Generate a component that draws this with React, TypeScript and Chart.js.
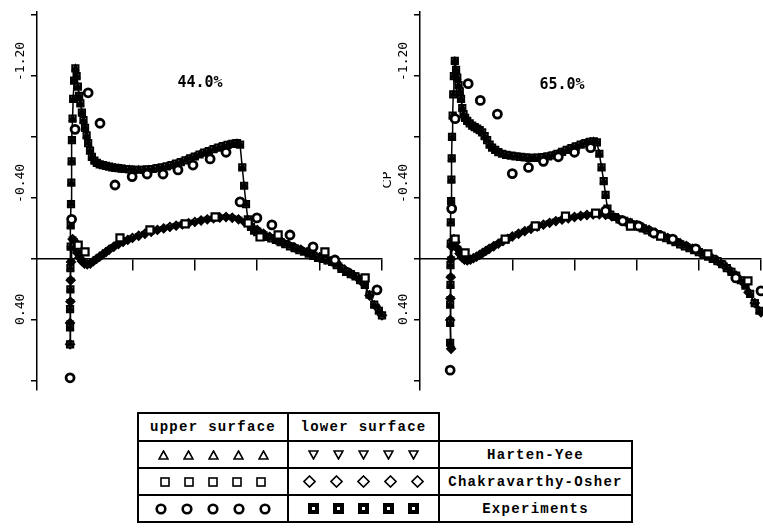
import React, { useEffect, useRef } from "react";
import { Chart, registerables } from "chart.js";
Chart.register(...registerables);

// ---------- axis / text content ----------
const Y_TICKS = [-1.6, -1.2, -0.8, -0.4, 0, 0.4, 0.8];
const Y_LABEL_VALUES = [-1.2, -0.4, 0.4];
const Y_LABELS = ["-1.20", "-0.40", "0.40"];
const X_TICKS = [0.2, 0.4, 0.6, 0.8, 1.0];
const PANEL_TITLES = ["44.0%", "65.0%"];
const AXIS_TITLE = "CP";
const LEGEND_HEADERS = ["upper surface", "lower surface"];
const LEGEND_METHODS = ["Harten-Yee", "Chakravarthy-Osher", "Experiments"];

// ---------- 44.0% span station: [x/c, Cp] ----------
const UPPER_44: [number, number][] = [
  [0, 0.56], [0, 0.45], [0, 0.33], [0.001, 0.2], [0.001, 0.06], [0.002, -0.08], [0.002, -0.22],
  [0.003, -0.36], [0.004, -0.5], [0.005, -0.64], [0.006, -0.78], [0.008, -0.92], [0.01, -1.05],
  [0.013, -1.17], [0.017, -1.25], [0.021, -1.2], [0.025, -1.13], [0.029, -1.07], [0.033, -1.02],
  [0.038, -0.96], [0.043, -0.91], [0.048, -0.86], [0.053, -0.81], [0.058, -0.76], [0.064, -0.71],
  [0.07, -0.67], [0.078, -0.645], [0.086, -0.63], [0.095, -0.62], [0.105, -0.615], [0.115, -0.61],
  [0.125, -0.605], [0.135, -0.6], [0.145, -0.597], [0.155, -0.595], [0.165, -0.592], [0.175, -0.59],
  [0.19, -0.588], [0.205, -0.585], [0.22, -0.585], [0.235, -0.585], [0.25, -0.587], [0.265, -0.59],
  [0.28, -0.595], [0.295, -0.6], [0.31, -0.607], [0.325, -0.615], [0.34, -0.625], [0.355, -0.635],
  [0.37, -0.647], [0.385, -0.66], [0.4, -0.672], [0.415, -0.685], [0.43, -0.697], [0.445, -0.708],
  [0.46, -0.72], [0.475, -0.73], [0.49, -0.74], [0.505, -0.748], [0.52, -0.755], [0.535, -0.76],
  [0.545, -0.75], [0.552, -0.6], [0.558, -0.48], [0.564, -0.36], [0.57, -0.26], [0.58, -0.21],
  [0.59, -0.185], [0.6, -0.175], [0.615, -0.16], [0.63, -0.145], [0.645, -0.135], [0.66, -0.125],
  [0.675, -0.11], [0.69, -0.097], [0.705, -0.083], [0.72, -0.07], [0.735, -0.058], [0.75, -0.047],
  [0.765, -0.035], [0.78, -0.02], [0.795, -0.007], [0.81, 0], [0.825, 0.01], [0.84, 0.02],
  [0.855, 0.04], [0.87, 0.065], [0.885, 0.085], [0.9, 0.1], [0.915, 0.115], [0.93, 0.14],
  [0.945, 0.17], [0.96, 0.235], [0.975, 0.3], [0.99, 0.34], [1, 0.37],
];
const LOWER_44: [number, number][] = [
  [0, 0.56], [0, 0.42], [0.001, 0.28], [0.002, 0.14], [0.003, 0.02], [0.005, -0.08], [0.008, -0.13],
  [0.012, -0.12], [0.017, -0.08], [0.023, -0.04], [0.03, -0.01], [0.038, 0.015], [0.046, 0.03],
  [0.055, 0.035], [0.065, 0.03], [0.075, 0.015], [0.085, 0], [0.095, -0.015], [0.105, -0.03],
  [0.115, -0.045], [0.125, -0.06], [0.14, -0.08], [0.155, -0.098], [0.17, -0.112], [0.185, -0.125],
  [0.2, -0.138], [0.22, -0.152], [0.24, -0.165], [0.26, -0.178], [0.28, -0.19], [0.3, -0.2],
  [0.32, -0.21], [0.34, -0.218], [0.36, -0.227], [0.38, -0.235], [0.4, -0.243], [0.42, -0.252],
  [0.44, -0.26], [0.46, -0.267], [0.48, -0.272], [0.5, -0.275], [0.52, -0.27], [0.54, -0.26],
  [0.56, -0.24], [0.58, -0.215], [0.6, -0.19], [0.62, -0.165], [0.64, -0.145], [0.66, -0.127],
  [0.68, -0.11], [0.7, -0.093], [0.72, -0.076], [0.74, -0.06], [0.76, -0.045], [0.78, -0.03],
  [0.8, -0.012], [0.82, 0.003], [0.84, 0.018], [0.86, 0.04], [0.88, 0.07], [0.9, 0.095],
  [0.92, 0.12], [0.94, 0.16], [0.96, 0.24], [0.98, 0.31], [1, 0.37],
];
const EXP_UPPER_44: [number, number][] = [
  [0, 0.78], [0.005, -0.26], [0.016, -0.85], [0.058, -1.09], [0.096, -0.89], [0.144, -0.485],
  [0.199, -0.54], [0.247, -0.557], [0.298, -0.557], [0.346, -0.584], [0.394, -0.616], [0.449, -0.656],
  [0.5, -0.7], [0.545, -0.374], [0.599, -0.269], [0.647, -0.223], [0.705, -0.157], [0.779, -0.079],
  [0.849, 0.007], [0.984, 0.203],
];
const EXP_LOWER_44: [number, number][] = [
  [0.026, -0.09], [0.048, -0.046], [0.16, -0.138], [0.256, -0.19], [0.369, -0.23], [0.465, -0.275],
  [0.571, -0.236], [0.609, -0.144], [0.667, -0.157], [0.817, -0.046], [0.946, 0.125],
];

// ---------- 65.0% span station: [x/c, Cp] ----------
const UPPER_65: [number, number][] = [
  [0, 0.55], [0, 0.42], [0, 0.3], [0.001, 0.17], [0.001, 0.04], [0.002, -0.1], [0.002, -0.24],
  [0.003, -0.38], [0.004, -0.52], [0.005, -0.66], [0.006, -0.8], [0.008, -0.94], [0.01, -1.08],
  [0.012, -1.2], [0.015, -1.3], [0.019, -1.24], [0.023, -1.19], [0.027, -1.14], [0.031, -1.1],
  [0.035, -1.05], [0.039, -0.99], [0.043, -0.95], [0.048, -0.925], [0.055, -0.905], [0.063, -0.89],
  [0.071, -0.875], [0.079, -0.865], [0.087, -0.855], [0.095, -0.845], [0.103, -0.83], [0.111, -0.805],
  [0.119, -0.78], [0.127, -0.75], [0.135, -0.73], [0.145, -0.715], [0.155, -0.7], [0.167, -0.69],
  [0.18, -0.682], [0.195, -0.677], [0.21, -0.673], [0.225, -0.67], [0.24, -0.666], [0.255, -0.663],
  [0.27, -0.663], [0.285, -0.665], [0.3, -0.668], [0.315, -0.673], [0.33, -0.68], [0.345, -0.69],
  [0.36, -0.703], [0.375, -0.715], [0.39, -0.727], [0.405, -0.738], [0.42, -0.75], [0.435, -0.76],
  [0.45, -0.768], [0.462, -0.772], [0.472, -0.765], [0.48, -0.69], [0.487, -0.6], [0.494, -0.51],
  [0.5, -0.42], [0.506, -0.33], [0.515, -0.29], [0.53, -0.275], [0.545, -0.26], [0.56, -0.25],
  [0.575, -0.238], [0.59, -0.225], [0.605, -0.213], [0.62, -0.2], [0.635, -0.188], [0.65, -0.175],
  [0.665, -0.162], [0.68, -0.15], [0.695, -0.137], [0.71, -0.123], [0.725, -0.11], [0.74, -0.096],
  [0.755, -0.083], [0.77, -0.07], [0.785, -0.057], [0.8, -0.045], [0.815, -0.03], [0.83, -0.015],
  [0.845, 0], [0.86, 0.015], [0.875, 0.035], [0.89, 0.06], [0.905, 0.085], [0.92, 0.11],
  [0.935, 0.14], [0.95, 0.175], [0.965, 0.23], [0.98, 0.29], [0.995, 0.34],
];
const LOWER_65: [number, number][] = [
  [0.003, 0.59], [0, 0.4], [0.001, 0.26], [0.002, 0.12], [0.003, 0], [0.005, -0.08], [0.008, -0.12],
  [0.012, -0.13], [0.017, -0.11], [0.023, -0.07], [0.03, -0.035], [0.038, -0.01], [0.046, 0.005],
  [0.055, 0.01], [0.065, 0.005], [0.075, -0.005], [0.085, -0.015], [0.095, -0.027], [0.105, -0.04],
  [0.115, -0.053], [0.125, -0.065], [0.14, -0.083], [0.155, -0.1], [0.17, -0.117], [0.185, -0.132],
  [0.2, -0.147], [0.22, -0.165], [0.24, -0.182], [0.26, -0.198], [0.28, -0.212], [0.3, -0.225],
  [0.32, -0.237], [0.34, -0.248], [0.36, -0.258], [0.38, -0.267], [0.4, -0.275], [0.42, -0.282],
  [0.44, -0.288], [0.46, -0.292], [0.48, -0.293], [0.5, -0.29], [0.52, -0.28], [0.54, -0.265],
  [0.56, -0.25], [0.58, -0.237], [0.6, -0.222], [0.62, -0.206], [0.64, -0.19], [0.66, -0.172],
  [0.68, -0.155], [0.7, -0.138], [0.72, -0.12], [0.74, -0.103], [0.76, -0.086], [0.78, -0.068],
  [0.8, -0.05], [0.82, -0.03], [0.84, -0.01], [0.86, 0.012], [0.88, 0.04], [0.9, 0.075],
  [0.92, 0.11], [0.94, 0.15], [0.96, 0.22], [0.98, 0.29], [1, 0.35],
];
const EXP_UPPER_65: [number, number][] = [
  [0, 0.73], [0.005, -0.33], [0.016, -0.92], [0.058, -1.15], [0.097, -1.04], [0.152, -0.95],
  [0.2, -0.56], [0.252, -0.6], [0.3, -0.64], [0.348, -0.67], [0.4, -0.7], [0.452, -0.73],
  [0.5, -0.315], [0.555, -0.25], [0.606, -0.216], [0.655, -0.17], [0.716, -0.13], [0.79, -0.066],
  [0.919, 0.125], [1, 0.21],
];
const EXP_LOWER_65: [number, number][] = [
  [0.016, -0.13], [0.048, -0.04], [0.177, -0.13], [0.274, -0.216], [0.371, -0.28], [0.468, -0.3],
  [0.58, -0.216], [0.677, -0.15], [0.829, -0.033], [0.958, 0.144],
];

// ---------- chart plumbing ----------
const panelTextPlugin = {
  id: "panelText",
  afterDraw(chart: any, _args: any, opts: any) {
    const { ctx, chartArea } = chart;
    const y = chart.scales.y;
    ctx.save();
    ctx.fillStyle = "#000";
    ctx.font = '13px "DejaVu Sans Mono"';
    ctx.textBaseline = "middle";
    ctx.textAlign = "left";
    Y_LABEL_VALUES.forEach((v, i) => {
      const py = y.getPixelForValue(v);
      ctx.save();
      ctx.translate(chartArea.left - 16, py + 5);
      ctx.rotate(-Math.PI / 2);
      ctx.fillText(Y_LABELS[i], 0, 0);
      ctx.restore();
    });
    if (opts.axisTitle) {
      ctx.save();
      ctx.font = '13px "DejaVu Sans"';
      ctx.textAlign = "center";
      ctx.translate(chartArea.left - 32, chartArea.top + 168);
      ctx.rotate(-Math.PI / 2);
      ctx.fillText(opts.axisTitle, 0, 0);
      ctx.restore();
    }
    ctx.font = 'bold 15px "DejaVu Sans Mono"';
    ctx.textAlign = "center";
    ctx.fillText(opts.title, chartArea.left + opts.titleDx, chartArea.top + opts.titleDy);
    ctx.restore();
  },
};

const toPts = (a: [number, number][]) => a.map(([x, y]) => ({ x, y }));

type PanelProps = {
  left: number;
  xMin: number;
  padRight: number;
  upper: [number, number][];
  lower: [number, number][];
  expUp: [number, number][];
  expLo: [number, number][];
  title: string;
  titleDx: number;
  titleDy: number;
  axisTitle?: string;
};

function Panel(p: PanelProps) {
  const ref = useRef<HTMLCanvasElement>(null);
  useEffect(() => {
    if (!ref.current) return;
    const common = { pointBorderColor: "#000", borderColor: "#000", clip: false as any };
    const chart = new Chart(ref.current, {
      type: "scatter",
      data: {
        datasets: [
          { ...common, label: "exp upper", data: toPts(p.expUp), pointStyle: "circle", pointRadius: 4, pointBorderWidth: 2.8, pointBackgroundColor: "#fff", showLine: false },
          { ...common, label: "exp lower", data: toPts(p.expLo), pointStyle: "rect", pointRadius: 5, pointBorderWidth: 2.2, pointBackgroundColor: "#fff", showLine: false },
          { ...common, label: "HY upper", data: toPts(p.upper), pointStyle: "triangle", pointRadius: 3.4, pointBorderWidth: 1.6, pointBackgroundColor: "#000", showLine: true, borderWidth: 1.5 },
          { ...common, label: "CO upper", data: toPts(p.upper), pointStyle: "rect", pointRadius: 4.4, pointBorderWidth: 2, pointBackgroundColor: "#fff", showLine: false },
          { ...common, label: "HY lower", data: toPts(p.lower), pointStyle: "triangle", pointRotation: 180, pointRadius: 3.4, pointBorderWidth: 1.6, pointBackgroundColor: "#000", showLine: true, borderWidth: 1.5 },
          { ...common, label: "CO lower", data: toPts(p.lower), pointStyle: "rectRot", pointRadius: 4, pointBorderWidth: 2, pointBackgroundColor: "#fff", showLine: false },
        ] as any,
      },
      options: {
        animation: false,
        responsive: false,
        devicePixelRatio: 1,
        layout: { padding: { left: 0, right: p.padRight, top: 12, bottom: 10 }, autoPadding: false } as any,
        plugins: {
          legend: { display: false },
          tooltip: { enabled: false },
          panelText: { title: p.title, titleDx: p.titleDx, titleDy: p.titleDy, axisTitle: p.axisTitle },
        } as any,
        scales: {
          x: {
            type: "linear",
            min: p.xMin,
            max: 1,
            position: { y: 0 } as any,
            afterBuildTicks: (s: any) => {
              s.ticks = X_TICKS.map((v) => ({ value: v }));
            },
            ticks: { display: false },
            grid: { drawOnChartArea: false, drawTicks: true, tickLength: 11, color: "#000", lineWidth: 1.5 },
            border: { display: true, color: "#000", width: 1.5 },
          },
          y: {
            type: "linear",
            min: -1.62,
            max: 0.86,
            reverse: true,
            afterBuildTicks: (s: any) => {
              s.ticks = Y_TICKS.map((v) => ({ value: v }));
            },
            afterFit: (s: any) => {
              s.width = 37;
            },
            ticks: { display: false },
            grid: { drawOnChartArea: false, drawTicks: true, tickLength: 6, color: "#000", lineWidth: 1.5 },
            border: { display: true, color: "#000", width: 1.5 },
          },
        },
      },
      plugins: [panelTextPlugin],
    });
    return () => chart.destroy();
  }, []);
  return (
    <canvas
      ref={ref}
      width={395}
      height={400}
      style={{ position: "absolute", left: p.left, top: 0, width: 395, height: 400 }}
    />
  );
}

// ---------- legend table ----------
const SW = 1.6;
const TriUp = () => (
  <svg width="11" height="10"><polygon points="5.5,1 10,9 1,9" fill="none" stroke="#000" strokeWidth={SW} /></svg>
);
const TriDown = () => (
  <svg width="11" height="10"><polygon points="1,1 10,1 5.5,9" fill="none" stroke="#000" strokeWidth={SW} /></svg>
);
const Sq = () => (
  <svg width="10" height="10"><rect x="1" y="1" width="8" height="8" fill="none" stroke="#000" strokeWidth={SW} /></svg>
);
const Dia = () => (
  <svg width="13" height="13"><polygon points="6.5,1 12,6.5 6.5,12 1,6.5" fill="none" stroke="#000" strokeWidth={SW} /></svg>
);
const Circ = () => (
  <svg width="12" height="12"><circle cx="6" cy="6" r="4.3" fill="none" stroke="#000" strokeWidth={2.6} /></svg>
);
const FSq = () => (
  <svg width="11" height="11"><rect x="0" y="0" width="11" height="11" fill="#000" /><rect x="4" y="4" width="3" height="3" fill="#fff" /></svg>
);

const COLS = [138, 288, 439, 632];
const ROWS = [413, 441, 468, 495, 522];
const textStyle: React.CSSProperties = {
  fontFamily: '"Liberation Mono", "DejaVu Sans Mono", monospace',
  fontWeight: "bold",
  fontSize: 14,
  letterSpacing: 1.3,
  whiteSpace: "nowrap",
};

function Cell({ c, r, children }: { c: number; r: number; children: React.ReactNode }) {
  return (
    <div
      style={{
        position: "absolute",
        left: COLS[c],
        top: ROWS[r],
        width: COLS[c + 1] - COLS[c],
        height: ROWS[r + 1] - ROWS[r],
        display: "flex",
        alignItems: "center",
        justifyContent: "center",
        gap: 14,
        ...textStyle,
      }}
    >
      {children}
    </div>
  );
}

const five = (C: () => React.ReactElement) => [0, 1, 2, 3, 4].map((i) => <C key={i} />);

function Legend() {
  const lines: React.ReactElement[] = [];
  const h = (x1: number, x2: number, y: number, k: string) =>
    lines.push(<div key={k} style={{ position: "absolute", left: x1 - 1, top: y - 1, width: x2 - x1 + 2, height: 2, background: "#000" }} />);
  const v = (x: number, y1: number, y2: number, k: string) =>
    lines.push(<div key={k} style={{ position: "absolute", left: x - 1, top: y1 - 1, width: 2, height: y2 - y1 + 2, background: "#000" }} />);
  h(COLS[0], COLS[2], ROWS[0], "h0");
  for (let i = 1; i < ROWS.length; i++) h(COLS[0], COLS[3], ROWS[i], "h" + i);
  v(COLS[0], ROWS[0], ROWS[4], "v0");
  v(COLS[1], ROWS[0], ROWS[4], "v1");
  v(COLS[2], ROWS[0], ROWS[4], "v2");
  v(COLS[3], ROWS[1], ROWS[4], "v3");
  return (
    <>
      {lines}
      <Cell c={0} r={0}>{LEGEND_HEADERS[0]}</Cell>
      <Cell c={1} r={0}>{LEGEND_HEADERS[1]}</Cell>
      <Cell c={0} r={1}>{five(TriUp)}</Cell>
      <Cell c={1} r={1}>{five(TriDown)}</Cell>
      <Cell c={2} r={1}>{LEGEND_METHODS[0]}</Cell>
      <Cell c={0} r={2}>{five(Sq)}</Cell>
      <Cell c={1} r={2}>{five(Dia)}</Cell>
      <Cell c={2} r={2}>{LEGEND_METHODS[1]}</Cell>
      <Cell c={0} r={3}>{five(Circ)}</Cell>
      <Cell c={1} r={3}>{five(FSq)}</Cell>
      <Cell c={2} r={3}>{LEGEND_METHODS[2]}</Cell>
    </>
  );
}

export default function App() {
  return (
    <div
      style={{
        position: "fixed",
        left: 0,
        top: 0,
        width: 763,
        height: 529,
        overflow: "hidden",
        background: "#fff",
      }}
    >
      <Panel
        left={0}
        xMin={-0.106}
        padRight={13}
        upper={UPPER_44}
        lower={LOWER_44}
        expUp={EXP_UPPER_44}
        expLo={EXP_LOWER_44}
        title={PANEL_TITLES[0]}
        titleDx={163}
        titleDy={71}
      />
      <Panel
        left={383}
        xMin={-0.097}
        padRight={17}
        upper={UPPER_65}
        lower={LOWER_65}
        expUp={EXP_UPPER_65}
        expLo={EXP_LOWER_65}
        title={PANEL_TITLES[1]}
        titleDx={142}
        titleDy={73}
        axisTitle={AXIS_TITLE}
      />
      <Legend />
    </div>
  );
}
